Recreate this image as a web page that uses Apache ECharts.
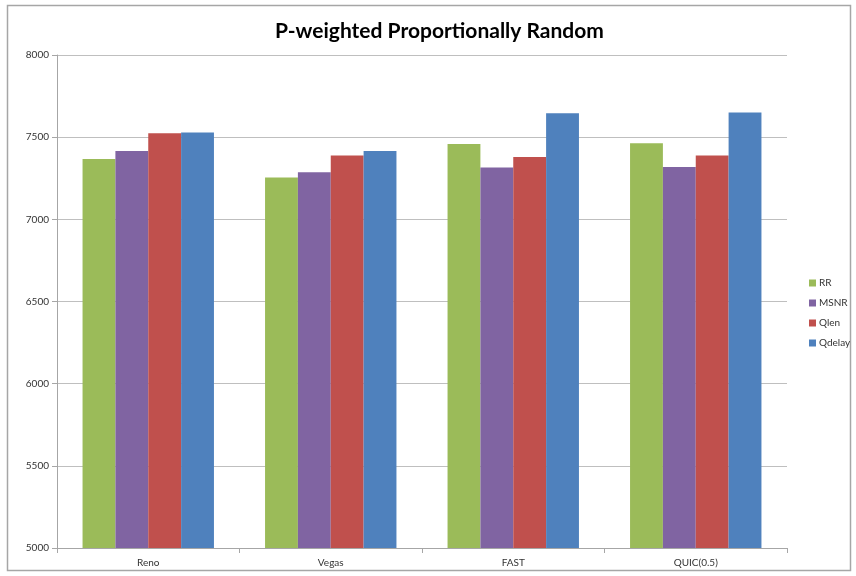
<!DOCTYPE html>
<html>
<head>
<meta charset="utf-8">
<script src="https://cdn.jsdelivr.net/npm/echarts@6/dist/echarts.min.js"></script>
<style>
  html, body { margin: 0; padding: 0; background: #fff; }
  #chart { width: 856px; height: 576px; }
</style>
</head>
<body>
<div id="chart"></div>
<script>
// Throughput per TCP variant under P-weighted proportionally random scheduling
const categories = ['Reno', 'Vegas', 'FAST', 'QUIC(0.5)'];
const seriesNames = ['RR', 'MSNR', 'Qlen', 'Qdelay'];
const rrValues     = [7367, 7254, 7459, 7463];
const msnrValues   = [7416, 7287, 7315, 7319];
const qlenValues   = [7524, 7388, 7380, 7388];
const qdelayValues = [7528, 7416, 7646, 7650];
const yTicks = { min: 5000, max: 8000, interval: 500 };

const colors = ['#9BBB59', '#8064A2', '#C0504D', '#4F81BD'];
const valueSets = [rrValues, msnrValues, qlenValues, qdelayValues];
const labelFont = 'Lato, "Open Sans", sans-serif';

const chart = echarts.init(document.getElementById('chart'), null, { renderer: 'canvas' });
chart.setOption({
  animation: false,
  backgroundColor: '#ffffff',
  graphic: [{
    type: 'rect',
    shape: { x: 7.5, y: 5.5, width: 843, height: 565 },
    style: { fill: 'none', stroke: '#a6a6a6', lineWidth: 1.5 },
    silent: true, z: -1
  }],
  title: {
    text: 'P-weighted Proportionally Random',
    left: 270,
    top: 16,
    textStyle: { fontFamily: labelFont, fontWeight: 'bold', fontSize: 21, color: '#000' }
  },
  legend: {
    orient: 'vertical',
    left: 804,
    top: 273,
    itemWidth: 7,
    itemHeight: 7,
    itemGap: 10,
    icon: 'rect',
    data: seriesNames,
    textStyle: { fontFamily: labelFont, fontSize: 10, color: '#333', padding: [0, 0, 0, -2] }
  },
  grid: { left: 57, right: 69, top: 55, bottom: 28, containLabel: false },
  xAxis: {
    type: 'category',
    data: categories,
    axisLine: { lineStyle: { color: '#a6a6a6' } },
    axisTick: { show: true, length: 5, lineStyle: { color: '#a6a6a6' } },
    axisLabel: { fontFamily: labelFont, fontSize: 10, color: '#333', margin: 10 }
  },
  yAxis: {
    type: 'value',
    min: yTicks.min,
    max: yTicks.max,
    interval: yTicks.interval,
    axisLine: { show: true, lineStyle: { color: '#a6a6a6' } },
    axisTick: { show: true, length: 5, lineStyle: { color: '#a6a6a6' } },
    splitLine: { show: true, lineStyle: { color: '#bfbfbf' } },
    axisLabel: {
      fontFamily: labelFont, fontSize: 10, color: '#333', margin: 8,
      formatter: (v) => String(v)
    }
  },
  series: seriesNames.map((name, i) => ({
    name: name,
    type: 'bar',
    data: valueSets[i],
    barGap: 0,
    barCategoryGap: '28%',
    itemStyle: { color: colors[i] }
  }))
});
</script>
</body>
</html>
